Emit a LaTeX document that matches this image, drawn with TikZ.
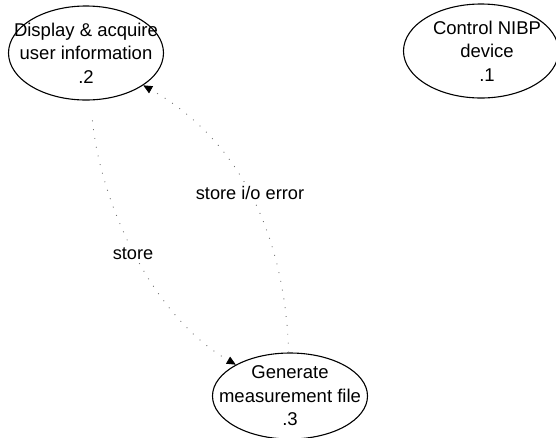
\documentclass[tikz,border=0pt]{standalone}
\usepackage{fontspec}
\setmainfont{Liberation Sans}
\usetikzlibrary{shapes.geometric,arrows.meta}
\begin{document}
\begin{tikzpicture}[x=1pt,y=-1pt,
  process/.style={ellipse, draw, line width=1.1pt, minimum width=155pt,
    minimum height=94pt, inner xsep=-40pt, inner ysep=-30pt, align=center,
    font=\fontsize{18.5}{23.5}\selectfont},
  flow/.style={draw=black!55, line width=0.9pt, dash pattern=on 0.9pt off 8pt,
    -{Triangle[length=9pt,width=8pt,black]}},
  lbl/.style={fill=white, inner sep=2pt, font=\fontsize{18.2}{20}\selectfont}]
  \useasboundingbox (0,0) rectangle (556,437);

  % processes
  \node[process] (e2) at (86,53) {Display \& acquire\\user information\\.2};
  \node[process] (e1) at (481,51) {\hspace*{12pt}Control NIBP\\\hspace*{12pt}device\\\hspace*{12pt}.1};
  \node[process, minimum height=86pt] (e3) at (290,396) {Generate\\measurement file\\.3};

  % data flows
  \draw[flow, shorten <=20pt] (e2) .. controls (100,200) and (150,315) .. (e3);
  \draw[flow] (e3) .. controls (285,235) and (240,140) .. (e2);

  % flow labels
  \node[lbl] (l1) at (133,254) {store};
  \node[lbl] (l2) at (250,193) {store i/o error};
\end{tikzpicture}
\end{document}
